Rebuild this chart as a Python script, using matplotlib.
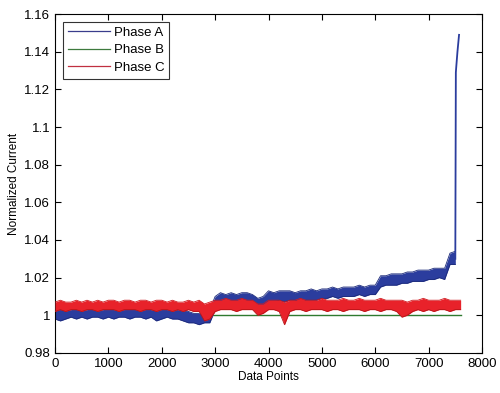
import numpy as np
import matplotlib
matplotlib.use("Agg")
import matplotlib.pyplot as plt

plt.rcParams["font.family"] = ["Liberation Sans", "DejaVu Sans"]

# envelope of each noisy phase, every 100 data points
a_x = np.arange(0, 7600, 100)
a_low = [0.998, 0.997, 0.998, 0.999, 0.998, 0.999, 0.998, 0.999, 0.999, 0.998,
         0.999, 0.998, 0.999, 0.999, 0.998, 0.999, 0.999, 0.998, 0.999, 0.997,
         0.998, 0.999, 0.998, 0.998, 0.997,
         0.996, 0.996, 0.995, 0.996, 0.996,
         1.003,
         1.006, 1.006, 1.005, 1.006, 1.006, 1.005, 1.006,
         1.004, 1.004,
         1.007, 1.007, 1.008, 1.007, 1.008, 1.008, 1.007, 1.008, 1.008, 1.008,
         1.009, 1.009, 1.010, 1.009, 1.010, 1.010, 1.010, 1.011, 1.010, 1.011, 1.011,
         1.015, 1.016, 1.016, 1.016, 1.017, 1.017, 1.018, 1.018, 1.018, 1.019,
         1.019, 1.020, 1.019,
         1.027, 1.027]
a_high = [1.003, 1.004, 1.003, 1.003, 1.004, 1.003, 1.003, 1.004, 1.003, 1.003,
          1.004, 1.003, 1.004, 1.003, 1.004, 1.004, 1.003, 1.004, 1.003, 1.003,
          1.004, 1.003, 1.004, 1.003, 1.003,
          1.002, 1.001, 1.001, 1.002, 1.003,
          1.010,
          1.012, 1.011, 1.012, 1.011, 1.012, 1.012, 1.011,
          1.009, 1.010,
          1.013, 1.012, 1.013, 1.013, 1.013, 1.012, 1.013, 1.013, 1.014, 1.013,
          1.014, 1.014, 1.015, 1.014, 1.015, 1.015, 1.015, 1.016, 1.015, 1.016, 1.016,
          1.021, 1.021, 1.022, 1.022, 1.022, 1.023, 1.023, 1.024, 1.024, 1.024,
          1.025, 1.025, 1.025,
          1.033, 1.034]
# the final jump of phase A
spike_x = [7500, 7510, 7515, 7540, 7570]
spike_y = [1.030, 1.129, 1.131, 1.140, 1.149]

c_x = np.arange(0, 7700, 100)
c_low = [1.002, 1.003, 1.002, 1.003, 1.003, 1.002, 1.003, 1.003, 1.002, 1.003,
         1.003, 1.003, 1.002, 1.003, 1.003, 1.003, 1.002, 1.003, 1.003, 1.002,
         1.003, 1.003, 1.002, 1.003, 1.002, 1.003, 1.002, 1.002,
         0.997, 0.998,
         1.002, 1.003, 1.003, 1.003, 1.002, 1.003, 1.003, 1.003,
         1.000, 1.001,
         1.003, 1.003, 1.002,
         0.995,
         1.002, 1.003, 1.003, 1.002, 1.003, 1.003, 1.003, 1.002, 1.003, 1.003,
         1.002, 1.003, 1.003, 1.003, 1.002, 1.003, 1.003, 1.002, 1.003, 1.003, 1.002,
         0.999, 1.000,
         1.002, 1.003, 1.002, 1.003, 1.002, 1.003, 1.003, 1.002, 1.003, 1.003]
c_high = [1.007, 1.008, 1.007, 1.007, 1.008, 1.007, 1.008, 1.007, 1.008, 1.007,
          1.008, 1.008, 1.007, 1.008, 1.008, 1.007, 1.008, 1.008, 1.007, 1.008,
          1.008, 1.007, 1.008, 1.007, 1.007, 1.008, 1.007, 1.008,
          1.006, 1.007,
          1.008, 1.008, 1.009, 1.008, 1.008, 1.009, 1.008, 1.008,
          1.006, 1.006,
          1.008, 1.008, 1.008,
          1.007,
          1.008, 1.008, 1.009, 1.008, 1.008, 1.008, 1.009, 1.008, 1.008, 1.008,
          1.009, 1.008, 1.008, 1.009, 1.008, 1.008, 1.008, 1.009, 1.008, 1.008, 1.008,
          1.008, 1.007,
          1.008, 1.008, 1.009, 1.008, 1.008, 1.008, 1.009, 1.008, 1.008, 1.008]

b_x = [0, 7600]
b_y = [1.0, 1.0]

x_ticks = np.arange(0, 8001, 1000)
y_ticks = [0.98, 1.0, 1.02, 1.04, 1.06, 1.08, 1.10, 1.12, 1.14, 1.16]
y_labels = ["0.98", "1", "1.02", "1.04", "1.06", "1.08", "1.1", "1.12", "1.14", "1.16"]

blue = "#2b3d9e"
red = "#e8222a"
green = "#2f7a2f"

fig = plt.figure(figsize=(5.0, 3.93), dpi=100)
ax = fig.add_axes([0.11, 0.102, 0.854, 0.862])

ax.plot(b_x, b_y, color=green, lw=1.0, zorder=1)

ax.fill_between(a_x, a_low, a_high, color=blue, lw=0, zorder=2)
ax.plot(a_x, a_low, color="#1c2a7a", lw=0.6, zorder=2)
ax.plot(a_x, a_high, color="#1c2a7a", lw=0.6, zorder=2)
ax.plot(spike_x, spike_y, color=blue, lw=1.3, zorder=2)

ax.fill_between(c_x, c_low, c_high, color=red, lw=0, zorder=3)
ax.plot(c_x, c_low, color="#b81418", lw=0.6, zorder=3)
ax.plot(c_x, c_high, color="#d01a20", lw=0.6, zorder=3)

# legend proxies, thin lines as in the original
ax.plot([], [], color="#3a3d8c", lw=0.9, label="Phase A")
ax.plot([], [], color="#3d7a3d", lw=0.9, label="Phase B")
ax.plot([], [], color="#c03040", lw=0.9, label="Phase C")
handles, labels = ax.get_legend_handles_labels()
leg = ax.legend(handles[-3:], labels[-3:], loc="upper left", fontsize=9.5,
                frameon=True, fancybox=False, edgecolor="black",
                borderaxespad=0.6, handlelength=3.2, handletextpad=0.3,
                labelspacing=0.4, borderpad=0.35)
leg.get_frame().set_linewidth(0.8)

ax.set_xlim(0, 8000)
ax.set_ylim(0.98, 1.16)
ax.set_xticks(x_ticks)
ax.set_yticks(y_ticks)
ax.set_yticklabels(y_labels)
ax.tick_params(direction="in", top=True, right=True, labelsize=9.5,
               length=4, width=0.8)
for s in ax.spines.values():
    s.set_linewidth(0.8)

ax.set_xlabel("Data Points", fontsize=8.5, labelpad=1)
ax.set_ylabel("Normalized Current", fontsize=8.5, labelpad=3)

fig.savefig("out.png", dpi=100)
